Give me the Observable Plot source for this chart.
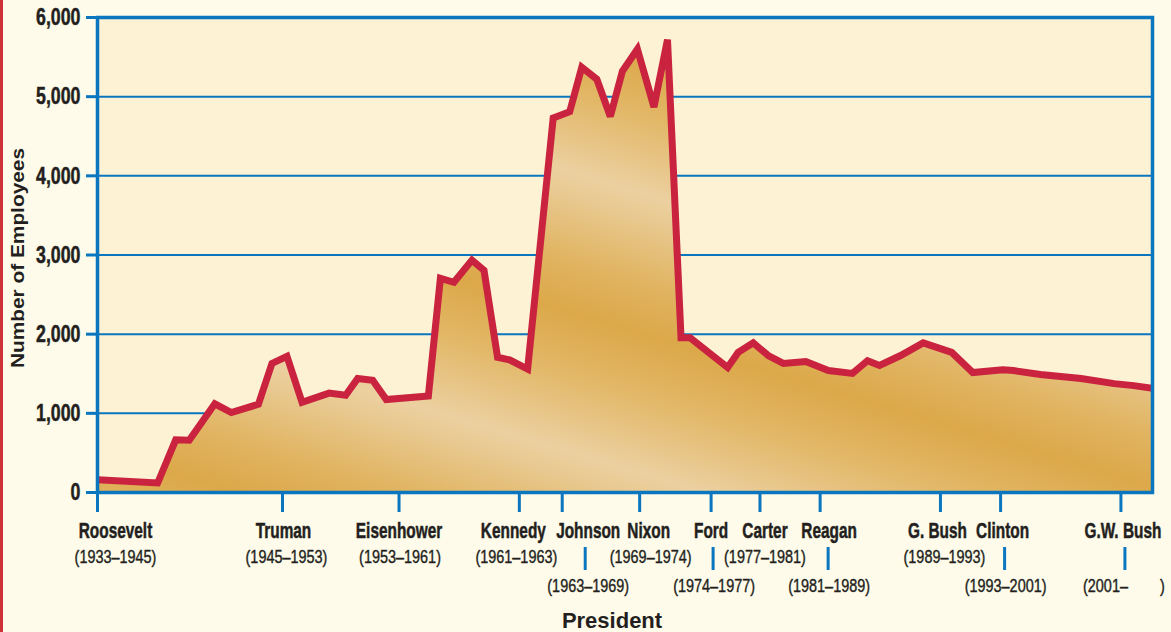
<!DOCTYPE html>
<html><head><meta charset="utf-8">
<script src="https://cdn.jsdelivr.net/npm/d3@7"></script>
<script src="https://cdn.jsdelivr.net/npm/@observablehq/plot@0.6"></script>
<style>
html,body{margin:0;padding:0;background:#fefbea;}
body{width:1171px;height:632px;overflow:hidden;position:relative;}
#chart{position:absolute;left:0;top:0;}
#edge{position:absolute;left:0;top:0;width:3px;height:632px;background:#cc3338;}
</style></head><body><div id="chart"></div><div id="edge"></div>
<script>
// ---- data ----
const years = [1933, 1937, 1938.2, 1939.1, 1940.8, 1941.9, 1943.7, 1944.6, 1945.6, 1946.6, 1948.4, 1949.5, 1950.3, 1951.3, 1952.2, 1955, 1955.8, 1956.7, 1957.9, 1958.7, 1959.6, 1960.4, 1961.6, 1963.3, 1964.4, 1965.2, 1966.2, 1967.1, 1967.9, 1968.9, 1970, 1970.9, 1971.8, 1972.4, 1974.9, 1975.6, 1976.6, 1977.6, 1978.6, 1980.1, 1981.6, 1983.2, 1984.2, 1985, 1986.4, 1987.9, 1989.8, 1991.2, 1993.2, 1993.9, 1995.7, 1998.4, 2000.6, 2001.9, 2003.15];
const employees = [160, 120, 665, 660, 1120, 1010, 1115, 1630, 1720, 1140, 1255, 1228, 1440, 1418, 1175, 1220, 2705, 2655, 2935, 2805, 1708, 1675, 1560, 4730, 4810, 5370, 5220, 4750, 5320, 5600, 4870, 5720, 1955, 1955, 1580, 1770, 1890, 1730, 1630, 1655, 1540, 1505, 1665, 1605, 1730, 1890, 1770, 1515, 1550, 1540, 1490, 1440, 1375, 1350, 1315];
const presidents = ["Roosevelt", "Truman", "Eisenhower", "Kennedy", "Johnson", "Nixon", "Ford", "Carter", "Reagan", "G. Bush", "Clinton", "G.W. Bush"];
const terms = ["(1933–1945)", "(1945–1953)", "(1953–1961)", "(1961–1963)", "(1963–1969)", "(1969–1974)", "(1974–1977)", "(1977–1981)", "(1981–1989)", "(1989–1993)", "(1993–2001)", "(2001–\u00a0\u00a0\u00a0\u00a0\u00a0\u00a0\u00a0\u00a0)"];
const tickYears = [1933, 1945.3, 1953.05, 1961.05, 1963.9, 1969.05, 1973.8, 1977.05, 1981.05, 1989.05, 1993.05, 2001.05];
const termRow = [1, 1, 1, 1, 2, 1, 2, 1, 2, 1, 2, 2];
const yTicks = [0, 1000, 2000, 3000, 4000, 5000, 6000];

// ---- layout ----
const BLUE = "#0a76bf", RED = "#c9233f", INK = "#231f20";
const SANS = "'Liberation Sans',Arial,'DejaVu Sans',sans-serif";
const X0 = 1933, X1 = 2003.15, L = 97, R = 1152;
const pxPerYear = (R - L) / (X1 - X0);
const nameDx = [18, 1, 0, -6, 26, 9, 0, 5, 9, -3, 2, 2];
const termDx = [18, 4, 1, -3, 26, 11, 3, 5, 9, 4, 5, 3];
const connDx = [0, 0, 0, 0, 23, 0, 2, 0, 8, 0, 4, 4];

const data = years.map((y, i) => ({year: y, value: employees[i]}));
const pres = presidents.map((name, i) => ({
  name, term: terms[i], x: tickYears[i], row: termRow[i],
  nx: tickYears[i] + nameDx[i] / pxPerYear,
  tx: tickYears[i] + termDx[i] / pxPerYear,
  cx: tickYears[i] + connDx[i] / pxPerYear
}));

const plot = Plot.plot({
  width: 1171, height: 632,
  marginLeft: L, marginRight: 1171 - R, marginTop: 17, marginBottom: 140,
  style: {background: "transparent", fontFamily: SANS, overflow: "visible"},
  x: {domain: [X0, X1], axis: null},
  y: {domain: [0, 6000], axis: null},
  marks: [
    Plot.frame({fill: "#fdf2d4", stroke: null}),
    Plot.gridY(yTicks, {stroke: BLUE, strokeOpacity: 1, strokeWidth: 2}),
    Plot.areaY(data, {x: "year", y: "value", fill: "url(#goldGrad)", clip: true}),
    Plot.lineY(data, {x: "year", y: "value", stroke: RED, strokeWidth: 7, strokeLinejoin: "miter", strokeMiterlimit: 3, clip: true}),
    Plot.frame({stroke: BLUE, strokeWidth: 3.5}),
    Plot.axisY(yTicks, {label: null, tickSize: 11, tickPadding: 6, stroke: BLUE, strokeWidth: 3, tickFormat: d3.format(","), fontSize: 24, fontWeight: "bold", fill: INK}),
    Plot.ruleX(tickYears, {stroke: BLUE, strokeWidth: 3, insetTop: 475, insetBottom: -20}),
    Plot.ruleX(pres.filter(d => d.row === 2), {x: "cx", stroke: BLUE, strokeWidth: 3, insetTop: 530, insetBottom: -78}),
    // text marks, in this order: names, terms row 1, terms row 2, y title, x title
    Plot.text(pres, {x: "nx", text: "name", frameAnchor: "bottom", lineAnchor: "middle", dy: 38, fontSize: 22, fontWeight: "bold", fill: INK, stroke: INK, strokeWidth: 0.5}),
    Plot.text(pres.filter(d => d.row === 1), {x: "tx", text: "term", frameAnchor: "bottom", lineAnchor: "middle", dy: 64, fontSize: 19, fill: INK, stroke: INK, strokeWidth: 0.4}),
    Plot.text(pres.filter(d => d.row === 2), {x: "tx", text: "term", frameAnchor: "bottom", lineAnchor: "middle", dy: 93, fontSize: 19, fill: INK, stroke: INK, strokeWidth: 0.4}),
    Plot.text(["Number of Employees"], {text: d => d, frameAnchor: "left", textAnchor: "middle", lineAnchor: "middle", rotate: -90, dx: -80, dy: 3, fontSize: 19, fontWeight: "bold", fill: INK}),
    Plot.text(["President"], {text: d => d, frameAnchor: "bottom", lineAnchor: "middle", dx: -13, dy: 128, fontSize: 22, fontWeight: "bold", fill: INK})
  ]
});

// gradient for the area fill
const ns = "http://www.w3.org/2000/svg";
const defs = document.createElementNS(ns, "defs");
const grad = document.createElementNS(ns, "linearGradient");
grad.setAttribute("id", "goldGrad");
grad.setAttribute("gradientUnits", "userSpaceOnUse");
grad.setAttribute("spreadMethod", "repeat");
grad.setAttribute("x1", 640); grad.setAttribute("y1", 333);
grad.setAttribute("x2", 563); grad.setAttribute("y2", 590);
[[0, "#dca849"], [0.22, "#e2b767"], [0.42, "#e9c990"], [0.5, "#ecd0a0"], [0.6, "#e8c88e"], [0.8, "#e1b564"], [1, "#dca849"]].forEach(([o, c]) => {
  const s = document.createElementNS(ns, "stop");
  s.setAttribute("offset", o); s.setAttribute("stop-color", c);
  grad.appendChild(s);
});
defs.appendChild(grad);
plot.insertBefore(defs, plot.firstChild);

// condense the heavy grotesque lettering horizontally
function condense(nodes, sx) {
  nodes.forEach(function(node) {
    const t = node.getAttribute("transform") || "";
    const x = +node.getAttribute("x") || 0, y = +node.getAttribute("y") || 0;
    node.setAttribute("transform", `${t} translate(${x},${y}) scale(${sx},1) translate(${-x},${-y})`);
  });
}
const textGroups = plot.querySelectorAll("g[aria-label='text']");
condense(textGroups[0].querySelectorAll("text"), 0.70);
condense(textGroups[1].querySelectorAll("text"), 0.76);
condense(textGroups[2].querySelectorAll("text"), 0.76);
const yLabels = plot.querySelectorAll("g[aria-label='y-axis tick label'] text");
condense(yLabels, 0.74);
yLabels.forEach(n => { n.setAttribute("stroke", INK); n.setAttribute("stroke-width", 0.5); });
textGroups[3].querySelectorAll("text").forEach(n => { n.setAttribute("textLength", 220); n.setAttribute("lengthAdjust", "spacingAndGlyphs"); });
document.getElementById("chart").appendChild(plot);
</script></body></html>
